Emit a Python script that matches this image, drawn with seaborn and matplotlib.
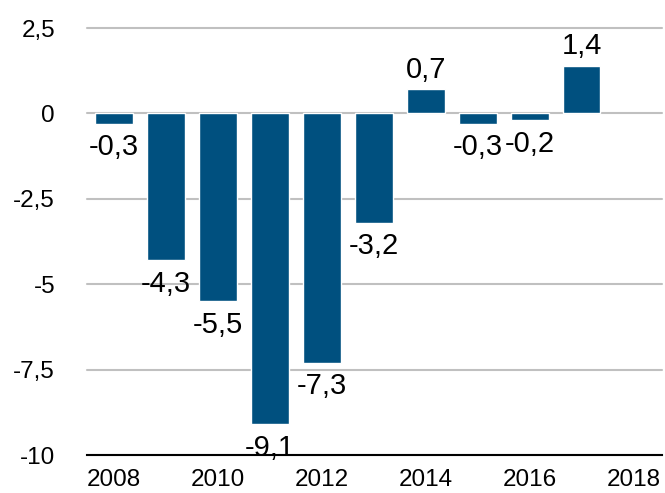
import numpy as np
import pandas as pd
import seaborn as sns
import matplotlib.pyplot as plt
from matplotlib.ticker import FuncFormatter

years = [2008, 2009, 2010, 2011, 2012, 2013, 2014, 2015, 2016, 2017]
values = [-0.3, -4.3, -5.5, -9.1, -7.3, -3.2, 0.7, -0.3, -0.2, 1.4]
xticks = [2008, 2010, 2012, 2014, 2016, 2018]
yticks = [-10, -7.5, -5, -2.5, 0, 2.5]


def comma(v, pos=None):
    s = f"{v:.1f}".replace('.', ',')
    if s.endswith(',0'):
        s = s[:-2]
    return s


sns.set_theme(style='white')
plt.rcParams['font.family'] = ['Liberation Sans', 'DejaVu Sans']
plt.rcParams['text.color'] = 'black'
plt.rcParams['xtick.color'] = 'black'
plt.rcParams['ytick.color'] = 'black'

df = pd.DataFrame({'year': years, 'value': values})

fig = plt.figure(figsize=(6.65, 4.93), dpi=100)
ax = fig.add_axes([87 / 665, 1 - 455 / 493, 575 / 665, 427 / 493])

sns.barplot(data=df, x='year', y='value', native_scale=True, width=0.73,
            color='#00507f', saturation=1, ax=ax)

bars = ax.containers[0]
# negatives sit a little further below the bar end than positives above it
ax.bar_label(bars, labels=[comma(v) if v < 0 else '' for v in values],
             padding=7, fontsize=21, color='black')
ax.bar_label(bars, labels=[comma(v) if v >= 0 else '' for v in values],
             padding=4, fontsize=21, color='black')

ax.set_xlim(2007.48, 2018.55)
ax.set_ylim(-10, 2.5)
ax.set_xticks(xticks)
ax.set_yticks(yticks)
ax.yaxis.set_major_formatter(FuncFormatter(comma))
ax.tick_params(axis='x', length=0, pad=10, labelsize=17.5)
ax.tick_params(axis='y', length=0, pad=23, labelsize=17.5)
ax.set_xlabel('')
ax.set_ylabel('')

ax.yaxis.grid(True, color='#c0c0c0', lw=1.5)
ax.set_axisbelow(True)
for line in ax.get_ygridlines():
    line.set_clip_on(False)

for side in ['left', 'top', 'right']:
    ax.spines[side].set_visible(False)
ax.spines['bottom'].set_color('black')
ax.spines['bottom'].set_linewidth(1.5)
ax.spines['bottom'].set_zorder(3)

fig.savefig('out.png', dpi=100)
